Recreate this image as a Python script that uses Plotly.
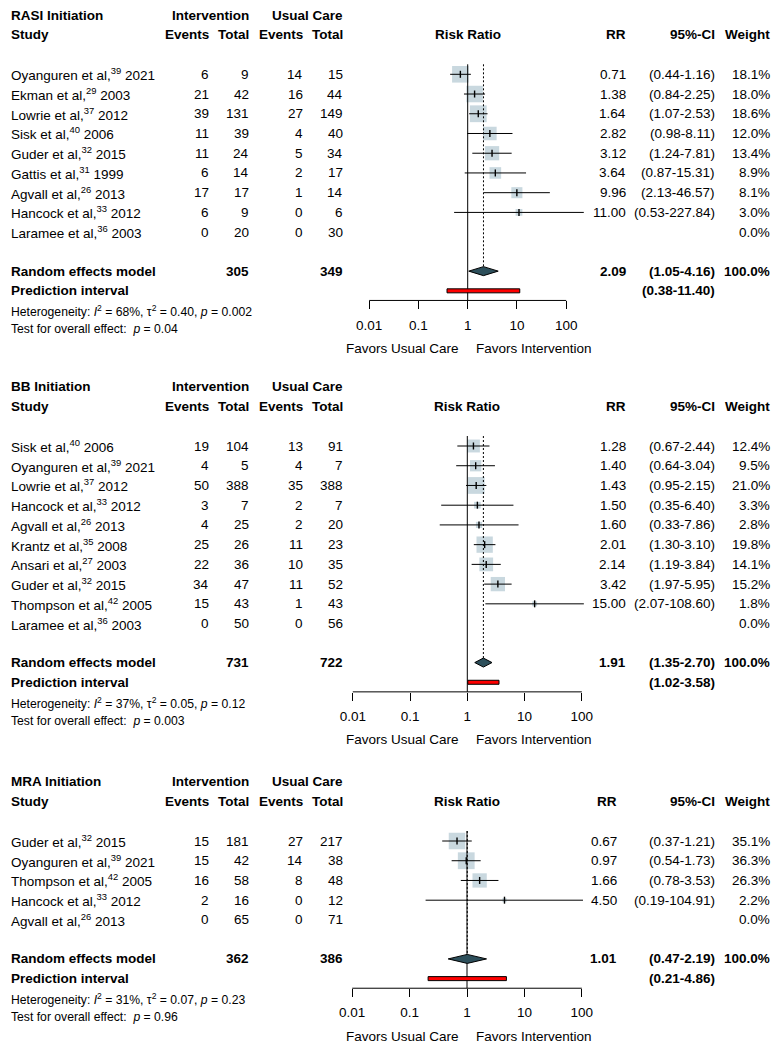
import math
import plotly.graph_objects as go

# ---------------- DATA ----------------
# RASI Initiation
rasi_study = ["Oyanguren et al,", "Ekman et al,", "Lowrie et al,", "Sisk et al,", "Guder et al,",
              "Gattis et al,", "Agvall et al,", "Hancock et al,", "Laramee et al,"]
rasi_ref = [39, 29, 37, 40, 32, 31, 26, 33, 36]
rasi_year = [2021, 2003, 2012, 2006, 2015, 1999, 2013, 2012, 2003]
rasi_ev_int = [6, 21, 39, 11, 11, 6, 17, 6, 0]
rasi_n_int = [9, 42, 131, 39, 24, 14, 17, 9, 20]
rasi_ev_uc = [14, 16, 27, 4, 5, 2, 1, 0, 0]
rasi_n_uc = [15, 44, 149, 40, 34, 17, 14, 6, 30]
rasi_rr = [0.71, 1.38, 1.64, 2.82, 3.12, 3.64, 9.96, 11.00, None]
rasi_lo = [0.44, 0.84, 1.07, 0.98, 1.24, 0.87, 2.13, 0.53, None]
rasi_hi = [1.16, 2.25, 2.53, 8.11, 7.81, 15.31, 46.57, 227.84, None]
rasi_w = [18.1, 18.0, 18.6, 12.0, 13.4, 8.9, 8.1, 3.0, 0.0]
rasi_summary = dict(rr=2.09, lo=1.05, hi=4.16, pi_lo=0.38, pi_hi=11.40, n_int=305, n_uc=349,
                    w=100.0, i2=68, tau2="0.40", p_het="0.002", p_all="0.04")

# BB Initiation
bb_study = ["Sisk et al,", "Oyanguren et al,", "Lowrie et al,", "Hancock et al,", "Agvall et al,",
            "Krantz et al,", "Ansari et al,", "Guder et al,", "Thompson et al,", "Laramee et al,"]
bb_ref = [40, 39, 37, 33, 26, 35, 27, 32, 42, 36]
bb_year = [2006, 2021, 2012, 2012, 2013, 2008, 2003, 2015, 2005, 2003]
bb_ev_int = [19, 4, 50, 3, 4, 25, 22, 34, 15, 0]
bb_n_int = [104, 5, 388, 7, 25, 26, 36, 47, 43, 50]
bb_ev_uc = [13, 4, 35, 2, 2, 11, 10, 11, 1, 0]
bb_n_uc = [91, 7, 388, 7, 20, 23, 35, 52, 43, 56]
bb_rr = [1.28, 1.40, 1.43, 1.50, 1.60, 2.01, 2.14, 3.42, 15.00, None]
bb_lo = [0.67, 0.64, 0.95, 0.35, 0.33, 1.30, 1.19, 1.97, 2.07, None]
bb_hi = [2.44, 3.04, 2.15, 6.40, 7.86, 3.10, 3.84, 5.95, 108.60, None]
bb_w = [12.4, 9.5, 21.0, 3.3, 2.8, 19.8, 14.1, 15.2, 1.8, 0.0]
bb_summary = dict(rr=1.91, lo=1.35, hi=2.70, pi_lo=1.02, pi_hi=3.58, n_int=731, n_uc=722,
                  w=100.0, i2=37, tau2="0.05", p_het="0.12", p_all="0.003")

# MRA Initiation
mra_study = ["Guder et al,", "Oyanguren et al,", "Thompson et al,", "Hancock et al,", "Agvall et al,"]
mra_ref = [32, 39, 42, 33, 26]
mra_year = [2015, 2021, 2005, 2012, 2013]
mra_ev_int = [15, 15, 16, 2, 0]
mra_n_int = [181, 42, 58, 16, 65]
mra_ev_uc = [27, 14, 8, 0, 0]
mra_n_uc = [217, 38, 48, 12, 71]
mra_rr = [0.67, 0.97, 1.66, 4.50, None]
mra_lo = [0.37, 0.54, 0.78, 0.19, None]
mra_hi = [1.21, 1.73, 3.53, 104.91, None]
mra_w = [35.1, 36.3, 26.3, 2.2, 0.0]
mra_summary = dict(rr=1.01, lo=0.47, hi=2.19, pi_lo=0.21, pi_hi=4.86, n_int=362, n_uc=386,
                   w=100.0, i2=31, tau2="0.07", p_het="0.23", p_all="0.96")

panel_titles = ["RASI Initiation", "BB Initiation", "MRA Initiation"]
tick_vals = [0.01, 0.1, 1, 10, 100]
tick_text = ["0.01", "0.1", "1", "10", "100"]

# ---------------- STYLE / LAYOUT CONSTANTS ----------------
PAGE_W, PAGE_H = 782, 1050
OFF = 8                      # default page body margin
W, H = PAGE_W - OFF, PAGE_H - OFF
FONT = "Liberation Sans, Arial, Helvetica, sans-serif"
FS = 13.5
FS_SMALL = 12.2
SQ_COLOR = "rgb(178,199,209)"
DIAMOND_COLOR = "rgb(45,79,91)"

panel_top = [15.0, 386.7, 781.7]
row_h = 19.73
x_one_px = [467.7, 467.3, 467.0]
decade_px = [49.25, 57.25, 57.4]
rr_col_x = [625.7, 625.7, 617.0]
ev_int_x, n_int_x, ev_uc_x, n_uc_x = 209.0, 249.3, 303.0, 342.8
ci_col_x, w_col_x = 715.0, 770.0
study_x = 10.5
log_dom_px = (290.0, 645.0)
max_sq = 16.8

panels = [
    (rasi_study, rasi_ref, rasi_year, rasi_ev_int, rasi_n_int, rasi_ev_uc, rasi_n_uc,
     rasi_rr, rasi_lo, rasi_hi, rasi_w, rasi_summary),
    (bb_study, bb_ref, bb_year, bb_ev_int, bb_n_int, bb_ev_uc, bb_n_uc,
     bb_rr, bb_lo, bb_hi, bb_w, bb_summary),
    (mra_study, mra_ref, mra_year, mra_ev_int, mra_n_int, mra_ev_uc, mra_n_uc,
     mra_rr, mra_lo, mra_hi, mra_w, mra_summary),
]

fig = go.Figure()
annotations = []


def ann(x, y, text, anchor="left", bold=False, size=FS, xref="x", xshift=0):
    if bold:
        text = "<b>" + text + "</b>"
    annotations.append(dict(x=x, y=y, xref=xref, yref="y", text=text, showarrow=False,
                            xanchor=anchor, yanchor="middle", xshift=xshift,
                            font=dict(family=FONT, size=size, color="black"),
                            borderpad=0, borderwidth=0))


# invisible trace to create the pixel-coordinate subplot
fig.add_trace(go.Scatter(x=[OFF], y=[OFF], mode="markers", marker=dict(opacity=0),
                         xaxis="x", yaxis="y", hoverinfo="skip"))

layout_axes = {}
for p, (study, ref, year, ev_i, n_i, ev_u, n_u, rr, lo, hi, w, s) in enumerate(panels):
    xa = "x%d" % (p + 2)
    top = panel_top[p]
    hdr2 = top + 19.7
    row0 = top + 59.3
    rows_y = [row0 + i * row_h for i in range(len(study))]
    re_y = rows_y[-1] + 39.0
    pi_y = re_y + 19.7
    axis_y = re_y + 29.3
    het_y = re_y + 40.0
    test_y = re_y + 58.2
    fav_y = axis_y + 48.0

    # log axis for this panel
    x1 = x_one_px[p]
    dec = decade_px[p]
    rng = [(log_dom_px[0] - x1) / dec, (log_dom_px[1] - x1) / dec]
    layout_axes["xaxis%d" % (p + 2)] = dict(
        type="log", domain=[(log_dom_px[0] - OFF) / W, (log_dom_px[1] - OFF) / W], range=rng,
        anchor="free", position=1 - (axis_y - OFF) / H, showline=False, showgrid=False,
        zeroline=False, ticks="outside", ticklen=8, tickwidth=1, tickcolor="black",
        tickvals=tick_vals, ticktext=tick_text, ticklabelstandoff=4,
        tickfont=dict(family=FONT, size=FS, color="black"), fixedrange=True)

    # squares
    wmax = max(w)
    sq_x, sq_y, sq_s = [], [], []
    for i in range(len(study)):
        if rr[i] is not None:
            sq_x.append(rr[i]); sq_y.append(rows_y[i])
            sq_s.append(max_sq * math.sqrt(w[i] / wmax))
    fig.add_trace(go.Scatter(x=sq_x, y=sq_y, mode="markers", xaxis=xa, yaxis="y",
                             marker=dict(symbol="square", size=sq_s, color=SQ_COLOR,
                                         line=dict(width=0)), hoverinfo="skip"))
    line_top = row0 - 10.0
    # solid line at 1
    fig.add_trace(go.Scatter(x=[1, 1], y=[line_top, axis_y], mode="lines", xaxis=xa, yaxis="y",
                             line=dict(color="black", width=1), hoverinfo="skip"))
    # dotted line at pooled estimate
    fig.add_trace(go.Scatter(x=[s["rr"], s["rr"]], y=[line_top, re_y - 4.5], mode="lines",
                             xaxis=xa, yaxis="y",
                             line=dict(color="black", width=1, dash="2px,2px"), hoverinfo="skip"))
    # CI lines
    cx, cy = [], []
    for i in range(len(study)):
        if rr[i] is not None:
            cx += [lo[i], hi[i], None]; cy += [rows_y[i], rows_y[i], None]
    fig.add_trace(go.Scatter(x=cx, y=cy, mode="lines", xaxis=xa, yaxis="y",
                             line=dict(color="black", width=1), hoverinfo="skip"))
    # point estimate ticks
    fig.add_trace(go.Scatter(x=sq_x, y=sq_y, mode="markers", xaxis=xa, yaxis="y",
                             marker=dict(symbol="line-ns", size=5, line=dict(width=1.4, color="black")),
                             hoverinfo="skip"))
    # diamond
    fig.add_trace(go.Scatter(x=[s["lo"], s["rr"], s["hi"], s["rr"], s["lo"]],
                             y=[re_y, re_y - 4.5, re_y, re_y + 4.5, re_y],
                             mode="lines", fill="toself", fillcolor=DIAMOND_COLOR,
                             xaxis=xa, yaxis="y", line=dict(color="black", width=1), hoverinfo="skip"))
    # prediction interval bar
    fig.add_trace(go.Scatter(x=[s["pi_lo"], s["pi_hi"], s["pi_hi"], s["pi_lo"], s["pi_lo"]],
                             y=[pi_y - 2, pi_y - 2, pi_y + 2, pi_y + 2, pi_y - 2],
                             mode="lines", fill="toself", fillcolor="red",
                             xaxis=xa, yaxis="y", line=dict(color="black", width=1), hoverinfo="skip"))
    # axis line
    fig.add_trace(go.Scatter(x=[tick_vals[0], tick_vals[-1]], y=[axis_y, axis_y], mode="lines",
                             xaxis=xa, yaxis="y", line=dict(color="black", width=1), hoverinfo="skip"))

    # ---- texts ----
    ann(study_x, top, panel_titles[p], bold=True)
    ann(n_int_x, top, "Intervention", anchor="right", bold=True)
    ann(n_uc_x, top, "Usual Care", anchor="right", bold=True)
    ann(study_x, hdr2, "Study", bold=True)
    ann(ev_int_x, hdr2, "Events", anchor="right", bold=True)
    ann(n_int_x, hdr2, "Total", anchor="right", bold=True)
    ann(ev_uc_x, hdr2, "Events", anchor="right", bold=True)
    ann(n_uc_x, hdr2, "Total", anchor="right", bold=True)
    ann(0, hdr2, "Risk Ratio", anchor="center", bold=True, xref=xa)
    ann(rr_col_x[p], hdr2, "RR", anchor="right", bold=True)
    ann(ci_col_x, hdr2, "95%-CI", anchor="right", bold=True)
    ann(w_col_x, hdr2, "Weight", anchor="right", bold=True)

    for i, y in enumerate(rows_y):
        ann(study_x, y, "%s<sup>%d</sup> %d" % (study[i], ref[i], year[i]))
        ann(ev_int_x, y, str(ev_i[i]), anchor="right")
        ann(n_int_x, y, str(n_i[i]), anchor="right")
        ann(ev_uc_x, y, str(ev_u[i]), anchor="right")
        ann(n_uc_x, y, str(n_u[i]), anchor="right")
        if rr[i] is not None:
            ann(rr_col_x[p], y, "%.2f" % rr[i], anchor="right")
            ann(ci_col_x, y, "(%.2f-%.2f)" % (lo[i], hi[i]), anchor="right")
        ann(w_col_x, y, "%.1f%%" % w[i], anchor="right")

    ann(study_x, re_y, "Random effects model", bold=True)
    ann(n_int_x, re_y, str(s["n_int"]), anchor="right", bold=True)
    ann(n_uc_x, re_y, str(s["n_uc"]), anchor="right", bold=True)
    ann(rr_col_x[p], re_y, "%.2f" % s["rr"], anchor="right", bold=True)
    ann(ci_col_x, re_y, "(%.2f-%.2f)" % (s["lo"], s["hi"]), anchor="right", bold=True)
    ann(w_col_x, re_y, "%.1f%%" % s["w"], anchor="right", bold=True)
    ann(study_x, pi_y, "Prediction interval", bold=True)
    ann(ci_col_x, pi_y, "(%.2f-%.2f)" % (s["pi_lo"], s["pi_hi"]), anchor="right", bold=True)
    ann(study_x, het_y, "Heterogeneity: <i>I</i><sup>2</sup> = %d%%, τ<sup>2</sup> = %s, <i>p</i> = %s"
        % (s["i2"], s["tau2"], s["p_het"]), size=FS_SMALL)
    ann(study_x, test_y, "Test for overall effect:  <i>p</i> = %s" % s["p_all"], size=FS_SMALL)
    ann(0, fav_y, "Favors Usual Care", anchor="right", xref=xa, xshift=-8.5)
    ann(0, fav_y, "Favors Intervention", anchor="left", xref=xa, xshift=8.5)

fig.update_layout(
    width=W, height=H, margin=dict(l=0, r=0, t=0, b=0),
    paper_bgcolor="white", plot_bgcolor="rgba(0,0,0,0)",
    showlegend=False, hovermode=False,
    xaxis=dict(range=[OFF, PAGE_W], domain=[0, 1], visible=False, fixedrange=True),
    yaxis=dict(range=[PAGE_H, OFF], domain=[0, 1], visible=False, fixedrange=True),
    annotations=annotations,
    **layout_axes,
)

fig.write_html("out.html", config={"displayModeBar": False})
